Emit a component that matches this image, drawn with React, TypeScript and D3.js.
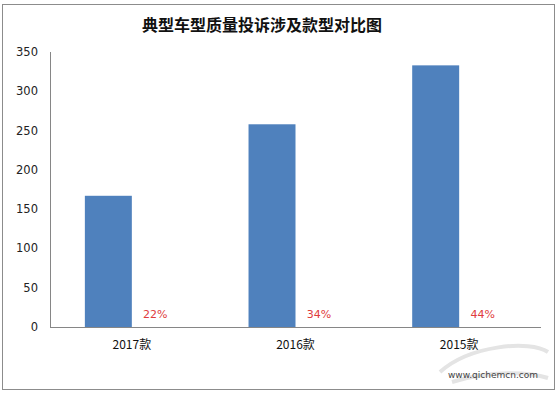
import React, { useEffect, useRef } from 'react';
import * as d3 from 'd3';

// chart data
const categories = ['2017款', '2016款', '2015款'];
const complaintCounts = [167, 258, 333];
const shareLabels = ['22%', '34%', '44%'];
const yTickValues = [0, 50, 100, 150, 200, 250, 300, 350];
const title = '典型车型质量投诉涉及款型对比图';

const App = () => {
  const svgRef = useRef<SVGSVGElement>(null);
  const width = 559;
  const height = 395;

  useEffect(() => {
    const svg = d3.select(svgRef.current);
    svg.selectAll('*').remove();

    const margin = { top: 52, right: 18, bottom: 68, left: 50 };
    const plotRight = width - margin.right;
    const plotBottom = height - margin.bottom;

    // frame
    svg.append('rect')
      .attr('x', 2.5)
      .attr('y', 4.5)
      .attr('width', 552)
      .attr('height', 385)
      .attr('fill', '#fff')
      .attr('stroke', '#8c8c8c');

    // title
    svg.append('text')
      .attr('x', 262)
      .attr('y', 31)
      .attr('text-anchor', 'middle')
      .style('font-family', '"Noto Sans CJK SC", sans-serif')
      .style('font-size', '16px')
      .style('font-weight', 'bold')
      .style('fill', '#111')
      .text(title);

    // scales
    const xScale = d3.scaleBand<string>()
      .domain(categories)
      .range([margin.left, 541])
      .paddingInner(0.426)
      .paddingOuter(0.213);

    // two slots per category: the bar, then the share label
    const slot = d3.scaleBand<string>()
      .domain(['count', 'share'])
      .range([0, xScale.bandwidth()]);

    const yScale = d3.scaleLinear()
      .domain([0, 350])
      .range([plotBottom, margin.top]);

    // y tick labels (no tick marks)
    svg.append('g')
      .selectAll('text')
      .data(yTickValues)
      .join('text')
      .attr('x', 38)
      .attr('y', d => yScale(d))
      .attr('dy', '0.35em')
      .attr('text-anchor', 'end')
      .style('font-family', '"DejaVu Sans", sans-serif')
      .style('font-size', '11.5px')
      .style('fill', '#222')
      .text(d => d);

    // bars
    svg.append('g')
      .selectAll('rect')
      .data(complaintCounts)
      .join('rect')
      .attr('x', (d, i) => xScale(categories[i])! + slot('count')!)
      .attr('y', d => yScale(d))
      .attr('width', slot.bandwidth())
      .attr('height', d => yScale(0) - yScale(d))
      .attr('fill', '#4f81bd');

    // share labels
    svg.append('g')
      .selectAll('text')
      .data(shareLabels)
      .join('text')
      .attr('x', (d, i) => xScale(categories[i])! + slot('share')! + slot.bandwidth() / 2)
      .attr('y', yScale(0) - 13)
      .attr('dy', '0.35em')
      .attr('text-anchor', 'middle')
      .style('font-family', '"DejaVu Sans", sans-serif')
      .style('font-size', '11px')
      .style('fill', '#e03c3c')
      .text(d => d);

    // axes lines
    svg.append('line')
      .attr('x1', margin.left + 0.5)
      .attr('x2', margin.left + 0.5)
      .attr('y1', yScale(350))
      .attr('y2', plotBottom)
      .attr('stroke', '#868686');

    svg.append('line')
      .attr('x1', margin.left)
      .attr('x2', 541)
      .attr('y1', plotBottom + 0.5)
      .attr('y2', plotBottom + 0.5)
      .attr('stroke', '#868686');

    // category labels
    svg.append('g')
      .selectAll('text')
      .data(categories)
      .join('text')
      .attr('x', d => xScale(d)! + xScale.bandwidth() / 2)
      .attr('y', 345)
      .attr('dy', '0.35em')
      .attr('text-anchor', 'middle')
      .style('font-family', '"Noto Sans CJK SC", sans-serif')
      .style('font-size', '12px')
      .style('fill', '#111')
      .text(d => d);

    // faint watermark
    svg.append('path')
      .attr('d', 'M440,372 C470,345 530,340 548,352 M452,382 C490,370 530,372 548,378')
      .attr('fill', 'none')
      .attr('stroke', '#e4e4e4')
      .attr('stroke-width', 4);

    svg.append('text')
      .attr('x', 448)
      .attr('y', 378)
      .style('font-family', '"DejaVu Sans", sans-serif')
      .style('font-size', '9px')
      .style('fill', '#444')
      .text('www.qichemcn.com');
  }, []);

  return (
    <svg
      ref={svgRef}
      width={width}
      height={height}
      style={{ position: 'absolute', left: 0, top: 0, background: '#fff' }}
    />
  );
};

export default App;
